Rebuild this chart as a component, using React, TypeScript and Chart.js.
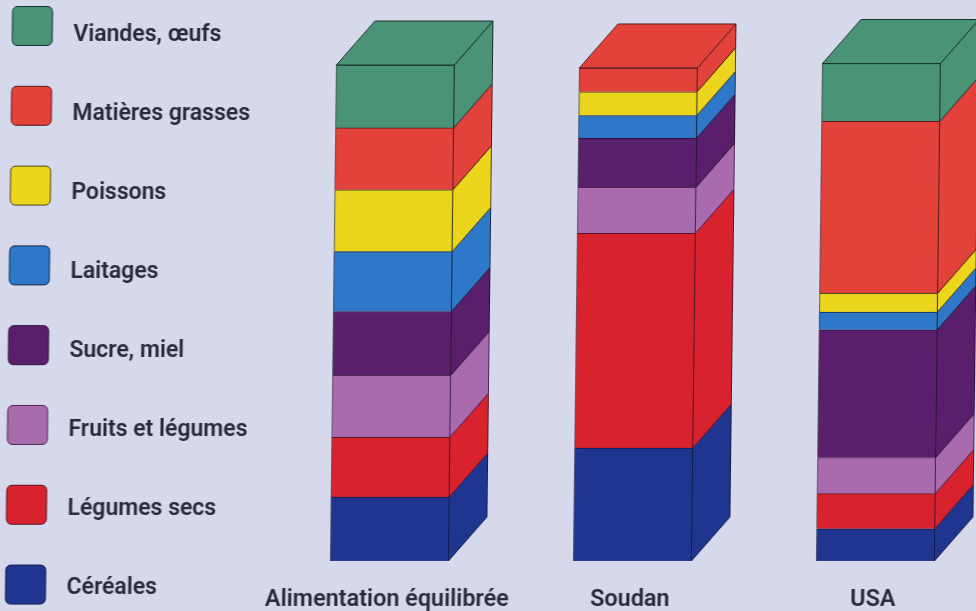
import React, { useEffect, useRef } from "react";
import { Chart, registerables } from "chart.js";

Chart.register(...registerables);

const categories = ["Alimentation équilibrée", "Soudan", "USA"];

const cereales = [12.9, 22.8, 6.5];
const legumesSecs = [12.1, 43.4, 7.1];
const fruitsLegumes = [12.5, 9.3, 7.3];
const sucreMiel = [12.9, 9.9, 25.8];
const laitages = [12.1, 4.6, 3.6];
const poissons = [12.5, 4.8, 3.8];
const matieresGrasses = [12.5, 4.8, 34.7];
const viandesOeufs = [12.7, 0, 11.7];

const BG = "#d6d9ec";
const DEPTH_X = 38;
const DEPTH_Y = 44;
const FONT = "Roboto";

const seriesDefs = [
  { label: "Céréales", data: cereales, color: "#20358f", line: "#141c4e" },
  { label: "Légumes secs", data: legumesSecs, color: "#d8222e", line: "#5a1526" },
  { label: "Fruits et légumes", data: fruitsLegumes, color: "#a96bae", line: "#4c2556" },
  { label: "Sucre, miel", data: sucreMiel, color: "#5a1f6c", line: "#2c1238" },
  { label: "Laitages", data: laitages, color: "#2f78c9", line: "#16294a" },
  { label: "Poissons", data: poissons, color: "#ebd51d", line: "#4a4420" },
  { label: "Matières grasses", data: matieresGrasses, color: "#e3423a", line: "#5a1c1c" },
  { label: "Viandes, œufs", data: viandesOeufs, color: "#4b9377", line: "#18342c" },
];

const box3d = {
  id: "box3d",
  afterDatasetsDraw(chart: any) {
    const { ctx } = chart;
    categories.forEach((_, i) => {
      let top: any = null;
      chart.data.datasets.forEach((ds: any, d: number) => {
        if (!ds.data[i]) return;
        const bar = chart.getDatasetMeta(d).data[i];
        const right = bar.x + bar.width / 2;
        ctx.beginPath();
        ctx.moveTo(right, bar.y);
        ctx.lineTo(right + DEPTH_X, bar.y - DEPTH_Y);
        ctx.lineTo(right + DEPTH_X, bar.base - DEPTH_Y);
        ctx.lineTo(right, bar.base);
        ctx.closePath();
        ctx.fillStyle = ds.backgroundColor;
        ctx.fill();
        ctx.strokeStyle = ds.borderColor;
        ctx.lineWidth = 1;
        ctx.stroke();
        top = { bar, ds };
      });
      if (top) {
        const left = top.bar.x - top.bar.width / 2;
        const right = top.bar.x + top.bar.width / 2;
        const y = top.bar.y;
        ctx.beginPath();
        ctx.moveTo(left, y);
        ctx.lineTo(left + DEPTH_X, y - DEPTH_Y);
        ctx.lineTo(right + DEPTH_X, y - DEPTH_Y);
        ctx.lineTo(right, y);
        ctx.closePath();
        ctx.fillStyle = top.ds.backgroundColor;
        ctx.fill();
        ctx.strokeStyle = top.ds.borderColor;
        ctx.stroke();
      }
    });
  },
};

const sideLegend = {
  id: "sideLegend",
  afterDraw(chart: any) {
    const { ctx } = chart;
    const items = [...chart.data.datasets].reverse();
    items.forEach((ds: any, r: number) => {
      const y = 6.5 + r * 79.8;
      ctx.beginPath();
      ctx.roundRect(9, y, 40, 39, 5);
      ctx.fillStyle = ds.backgroundColor;
      ctx.fill();
      ctx.strokeStyle = ds.borderColor;
      ctx.lineWidth = 1;
      ctx.stroke();
      ctx.fillStyle = "#282a3a";
      ctx.font = `600 23px ${FONT}`;
      ctx.textAlign = "left";
      ctx.textBaseline = "middle";
      ctx.fillText(ds.label, 70, 35.5 + r * 79);
    });
  },
};

export default function App() {
  const ref = useRef<HTMLCanvasElement>(null);
  useEffect(() => {
    document.body.style.margin = "0";
    document.body.style.background = BG;
    const chart = new Chart(ref.current!, {
      type: "bar",
      data: {
        labels: categories,
        datasets: seriesDefs.map((s) => ({
          label: s.label,
          data: s.data,
          backgroundColor: s.color,
          borderColor: s.line,
          borderWidth: 1,
          barThickness: 118,
          clip: false,
        })),
      },
      options: {
        responsive: false,
        animation: false,
        layout: { padding: { left: 271, right: 4, top: 66, bottom: 0 } },
        plugins: { legend: { display: false }, tooltip: { enabled: false } },
        scales: {
          x: {
            stacked: true,
            grid: { display: false },
            border: { display: false },
            afterFit: (s: any) => { s.height = 50; },
            ticks: {
              padding: 17,
              labelOffset: -2,
              autoSkip: false,
              maxRotation: 0,
              color: "#282a3a",
              font: { family: FONT, size: 23.4, weight: "600" },
            },
          },
          y: { stacked: true, display: false, min: 0, max: 100 },
        },
      },
      plugins: [box3d, sideLegend],
    } as any);
    return () => chart.destroy();
  }, []);
  return (
    <div style={{ position: "relative", width: 976, height: 611, overflow: "hidden", background: BG }}>
      <canvas
        ref={ref}
        width={1004}
        height={611}
        style={{ display: "block", transform: "skewX(-0.7deg)", transformOrigin: "0 305px", filter: "blur(0.4px)" }}
      />
    </div>
  );
}
